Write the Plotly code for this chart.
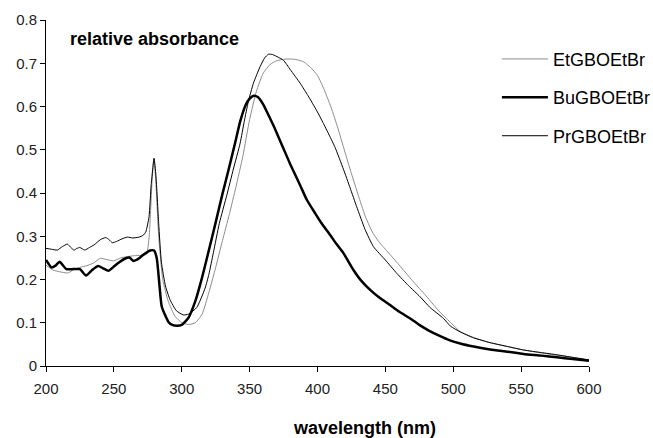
import plotly.graph_objects as go

# ---- data ----
et_wl = [200, 205, 210, 216, 220, 225, 230, 235, 240, 245, 250, 255, 260, 265, 270, 274,
         276, 278, 279.5, 281, 283, 286, 290, 295, 300, 305, 310, 315, 320, 325, 330, 335,
         340, 345, 350, 355, 360, 365, 370, 375, 380, 385, 390, 395, 400, 405, 410, 415,
         420, 425, 430, 435, 440, 445, 450, 460, 470, 480, 490, 495, 505, 515, 527, 540,
         552, 565, 576, 588, 600]
et_abs = [0.233, 0.222, 0.218, 0.215, 0.222, 0.228, 0.232, 0.238, 0.249, 0.246, 0.243, 0.250,
          0.253, 0.255, 0.256, 0.258, 0.300, 0.420, 0.480, 0.420, 0.300, 0.200, 0.150, 0.115,
          0.100, 0.096, 0.100, 0.120, 0.170, 0.228, 0.290, 0.350, 0.415, 0.485, 0.570, 0.635,
          0.677, 0.697, 0.706, 0.709, 0.710, 0.708, 0.703, 0.690, 0.672, 0.638, 0.598, 0.550,
          0.497, 0.445, 0.395, 0.348, 0.312, 0.288, 0.270, 0.234, 0.197, 0.162, 0.125, 0.110,
          0.080, 0.066, 0.054, 0.045, 0.037, 0.030, 0.025, 0.020, 0.014]

bu_wl = [200, 204, 207, 210, 215, 220, 225, 229.5, 234, 238.5, 242, 246, 250, 254.5, 258,
         261.4, 264.3, 267, 269.3, 273, 276.7, 279.6, 281.6, 283.5, 285.3, 290.2, 293, 296.3,
         300, 305, 310, 315, 320, 325, 330, 335, 340, 343, 347, 350, 353, 356, 360, 362.7,
         368, 374.9, 380, 387.2, 392, 398.3, 403, 409.3, 414, 419.1, 426.5, 432, 438.8, 446,
         453.5, 460, 468.3, 475, 482, 490.4, 497, 505.1, 515, 527.2, 540, 551.8, 565, 576.4,
         588, 600]
bu_abs = [0.245, 0.228, 0.232, 0.241, 0.224, 0.224, 0.224, 0.209, 0.222, 0.231, 0.226, 0.220,
          0.230, 0.241, 0.248, 0.251, 0.243, 0.246, 0.251, 0.260, 0.267, 0.267, 0.249, 0.190,
          0.137, 0.102, 0.095, 0.093, 0.095, 0.112, 0.150, 0.205, 0.268, 0.332, 0.398, 0.460,
          0.525, 0.565, 0.603, 0.618, 0.625, 0.622, 0.605, 0.588, 0.553, 0.503, 0.466, 0.418,
          0.385, 0.353, 0.330, 0.303, 0.282, 0.261, 0.222, 0.198, 0.176, 0.157, 0.141, 0.126,
          0.110, 0.095, 0.082, 0.069, 0.060, 0.052, 0.045, 0.038, 0.033, 0.028, 0.024, 0.020,
          0.016, 0.012]

pr_wl = [200, 204, 208.3, 212, 215.7, 218, 220.6, 222.8, 225, 228.5, 232, 235.4, 240, 244,
         246.5, 248.9, 252, 256, 259.9, 264, 268.5, 271.5, 273.5, 275.9, 277.5, 279.6, 281,
         283, 285, 288, 291.4, 296, 301.2, 305, 311, 317.2, 320, 323.3, 327.7, 333.2, 338,
         343, 346, 349.1, 352.8, 357.7, 361, 363.9, 367, 371, 374.9, 380, 387.2, 393, 399.5,
         404, 408.6, 413, 419.1, 424, 428.9, 435, 441.2, 450, 458.5, 467, 475.6, 483, 492.8,
         498, 505, 515, 527.2, 540, 551.8, 565, 576.4, 588, 600]
pr_abs = [0.272, 0.270, 0.268, 0.276, 0.282, 0.275, 0.268, 0.272, 0.274, 0.268, 0.274, 0.280,
          0.292, 0.297, 0.292, 0.285, 0.288, 0.294, 0.298, 0.296, 0.298, 0.302, 0.310, 0.345,
          0.420, 0.480, 0.440, 0.330, 0.240, 0.185, 0.153, 0.128, 0.118, 0.120, 0.135, 0.180,
          0.212, 0.262, 0.330, 0.395, 0.455, 0.515, 0.565, 0.612, 0.654, 0.692, 0.712, 0.721,
          0.720, 0.714, 0.707, 0.685, 0.654, 0.625, 0.590, 0.563, 0.534, 0.505, 0.455, 0.412,
          0.368, 0.316, 0.276, 0.245, 0.214, 0.186, 0.160, 0.135, 0.110, 0.092, 0.079, 0.065,
          0.054, 0.045, 0.037, 0.031, 0.026, 0.020, 0.014]

x_ticks = [200, 250, 300, 350, 400, 450, 500, 550, 600]
y_ticks = [0, 0.1, 0.2, 0.3, 0.4, 0.5, 0.6, 0.7, 0.8]
y_tick_text = ["0", "0.1", "0.2", "0.3", "0.4", "0.5", "0.6", "0.7", "0.8"]

FONT = "Liberation Sans, Arial, sans-serif"

fig = go.Figure()
fig.add_trace(go.Scatter(x=et_wl, y=et_abs, mode="lines", name="EtGBOEtBr",
                         line=dict(color="#8c8c8c", width=1, shape="spline", smoothing=0.5),
                         legendgroup="a"))
fig.add_trace(go.Scatter(x=bu_wl, y=bu_abs, mode="lines", name="BuGBOEtBr",
                         line=dict(color="#000000", width=2.5, shape="spline", smoothing=0.5),
                         legendgroup="b"))
fig.add_trace(go.Scatter(x=pr_wl, y=pr_abs, mode="lines", name="PrGBOEtBr",
                         line=dict(color="#000000", width=1, shape="spline", smoothing=0.5),
                         legendgroup="c"))

fig.update_layout(
    width=653, height=438,
    margin=dict(l=46, r=64, t=20, b=72, autoexpand=False),
    paper_bgcolor="white", plot_bgcolor="white",
    font=dict(family=FONT, color="#000000"),
    showlegend=True,
    legend=dict(xref="container", yref="container", x=0.761, y=0.907,
                xanchor="left", yanchor="top",
                font=dict(size=18, family=FONT, color="#000"),
                tracegroupgap=12, itemwidth=46, bgcolor="rgba(0,0,0,0)",
                traceorder="grouped"),
    xaxis=dict(range=[200, 600], tickvals=x_ticks, ticks="outside", ticklen=5,
               tickcolor="#000", showline=True, linecolor="#000", linewidth=1,
               showgrid=False, zeroline=False, tickfont=dict(size=15, family=FONT, color="#222"),
               ticklabelstandoff=4, fixedrange=True),
    yaxis=dict(range=[0, 0.8], tickvals=y_ticks, ticktext=y_tick_text, ticks="outside",
               ticklen=5, tickcolor="#000", showline=True, linecolor="#000", linewidth=1,
               showgrid=False, zeroline=False, tickfont=dict(size=15, family=FONT, color="#222"),
               fixedrange=True),
    annotations=[
        dict(text="<b>relative absorbance</b>", xref="paper", yref="paper",
             x=0.04, y=0.944, xanchor="left", yanchor="middle", showarrow=False,
             font=dict(size=18, family=FONT, color="#000")),
        dict(text="<b>wavelength (nm)</b>", xref="paper", yref="paper",
             x=0.586, y=-0.178, xanchor="center", yanchor="middle", showarrow=False,
             font=dict(size=18, family=FONT, color="#000")),
    ],
)

fig.write_html("out.html", config={"displayModeBar": False},
               post_script="document.body.style.margin='0';document.body.style.overflow='hidden';")
